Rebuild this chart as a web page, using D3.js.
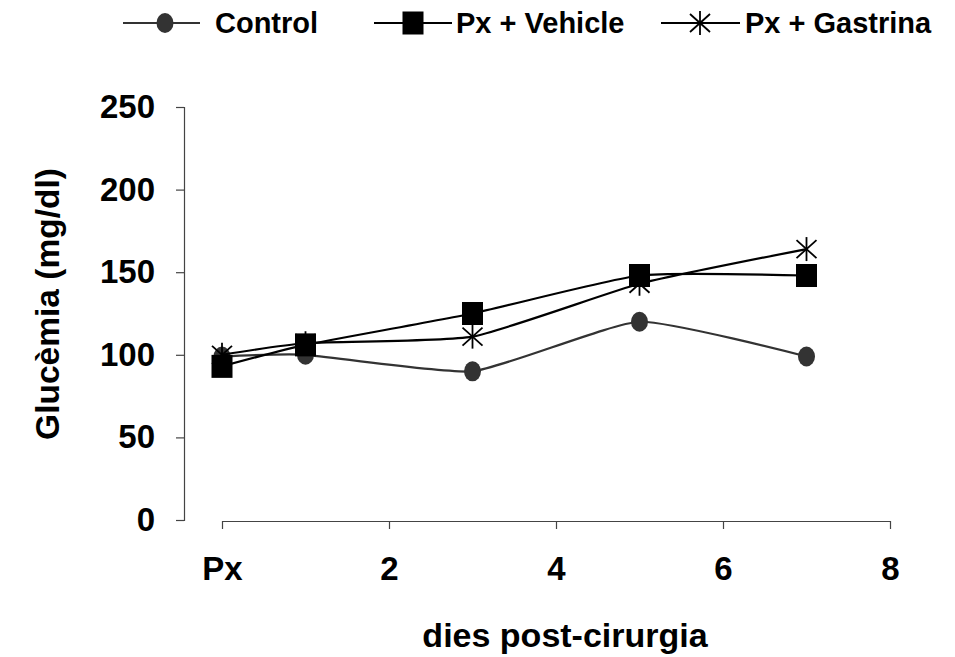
<!DOCTYPE html>
<html>
<head>
<meta charset="utf-8">
<script src="https://cdn.jsdelivr.net/npm/d3@7"></script>
<style>
  html, body { margin: 0; padding: 0; background: #fff; }
  svg { display: block; font-family: "Liberation Sans", Arial, sans-serif; font-weight: bold; }
</style>
</head>
<body>
<svg id="chart" width="955" height="657"></svg>
<script>
// Days after surgery (0 = day of pancreatectomy, shown as "Px")
const days = [0, 1, 3, 5, 7];
// Blood glucose (mg/dl) per group
const control = [99, 100, 90, 120, 99];
const vehicle = [93, 106, 125, 148, 148];
const gastrina = [100, 107, 111, 143, 164];

const xTicks = [0, 2, 4, 6, 8];
const xTickLabels = ["Px", "2", "4", "6", "8"];
const yTicks = [0, 50, 100, 150, 200, 250];

const seriesNames = ["Control", "Px + Vehicle", "Px + Gastrina"];

const svg = d3.select("#chart");

const x = d3.scaleLinear().domain([0, 8]).range([222, 890]);
const y = d3.scaleLinear().domain([0, 250]).range([520, 107]);

// Y axis
const yAxis = svg.append("g")
  .attr("transform", "translate(184,0)")
  .call(d3.axisLeft(y).tickValues(yTicks).tickSize(8).tickSizeOuter(8).tickPadding(21));
yAxis.selectAll("path, line").attr("stroke", "#444").attr("stroke-width", 1.2);
yAxis.selectAll("text").attr("font-size", 33).attr("font-family", "Liberation Sans, Arial, sans-serif")
  .attr("font-weight", "bold").attr("fill", "#000");

// X axis
const xAxis = svg.append("g")
  .attr("transform", "translate(0,521)")
  .call(d3.axisBottom(x).tickValues(xTicks).tickSize(8).tickSizeOuter(0).tickPadding(28)
    .tickFormat((d, i) => xTickLabels[i]));
xAxis.selectAll("path, line").attr("stroke", "#444").attr("stroke-width", 1.2);
xAxis.selectAll("text").attr("font-size", 33).attr("font-family", "Liberation Sans, Arial, sans-serif")
  .attr("font-weight", "bold").attr("fill", "#000");

// Axis titles
svg.append("text")
  .attr("x", 565).attr("y", 647)
  .attr("text-anchor", "middle")
  .attr("font-size", 34)
  .text("dies post-cirurgia");

svg.append("text")
  .attr("transform", "translate(59,304) rotate(-90)")
  .attr("text-anchor", "middle")
  .attr("font-size", 33.5)
  .text("Glucèmia (mg/dl)");

// Marker drawers
function drawCircle(g, cx, cy) {
  g.append("ellipse").attr("cx", cx).attr("cy", cy).attr("rx", 8.5).attr("ry", 10).attr("fill", "#333");
}
function drawSquare(g, cx, cy) {
  g.append("rect").attr("x", cx - 10.5).attr("y", cy - 11.5).attr("width", 21).attr("height", 23).attr("fill", "#000");
}
function drawStar(g, cx, cy) {
  const s = g.append("g").attr("transform", `translate(${cx},${cy})`)
    .attr("stroke", "#000").attr("stroke-width", 1.8);
  s.append("line").attr("x1", 0).attr("y1", -12).attr("x2", 0).attr("y2", 12);
  s.append("line").attr("x1", -10).attr("y1", -9).attr("x2", 10).attr("y2", 9);
  s.append("line").attr("x1", -10).attr("y1", 9).attr("x2", 10).attr("y2", -9);
}

const line = d3.line()
  .x(d => x(d[0]))
  .y(d => y(d[1]))
  .curve(d3.curveCardinal.tension(0.5));

const series = [
  { name: seriesNames[0], values: control, color: "#333", marker: drawCircle },
  { name: seriesNames[2], values: gastrina, color: "#000", marker: drawStar },
  { name: seriesNames[1], values: vehicle, color: "#000", marker: drawSquare }
];

series.forEach(s => {
  const pts = days.map((d, i) => [d, s.values[i]]);
  const g = svg.append("g");
  g.append("path").attr("d", line(pts)).attr("fill", "none")
    .attr("stroke", s.color).attr("stroke-width", 2.2);
  pts.forEach(p => s.marker(g, x(p[0]), y(p[1])));
});

// Legend
const legend = [
  { name: seriesNames[0], color: "#333", marker: drawCircle, x0: 123, x1: 200, mx: 165, tx: 215 },
  { name: seriesNames[1], color: "#000", marker: drawSquare, x0: 374, x1: 452, mx: 413, tx: 456 },
  { name: seriesNames[2], color: "#000", marker: drawStar, x0: 661, x1: 740, mx: 700, tx: 745 }
];
legend.forEach(l => {
  const g = svg.append("g");
  g.append("line").attr("x1", l.x0).attr("x2", l.x1).attr("y1", 23).attr("y2", 23)
    .attr("stroke", l.color).attr("stroke-width", 2.2);
  l.marker(g, l.mx, 23);
  g.append("text").attr("x", l.tx).attr("y", 33).attr("font-size", 29).text(l.name);
});
</script>
</body>
</html>
